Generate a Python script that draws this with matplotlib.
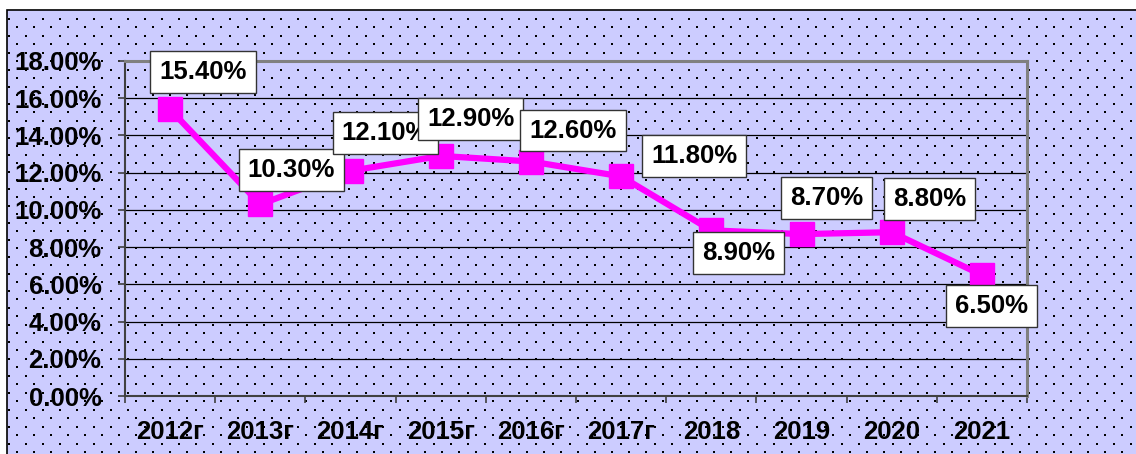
import matplotlib
matplotlib.use("Agg")
import matplotlib.pyplot as plt
import numpy as np
from matplotlib.patches import Rectangle
from matplotlib.ticker import FixedLocator, PercentFormatter

categories = ["2012г", "2013г", "2014г", "2015г", "2016г", "2017г", "2018", "2019", "2020", "2021"]
values = [15.40, 10.30, 12.10, 12.90, 12.60, 11.80, 8.90, 8.70, 8.80, 6.50]
labels = ["15.40%", "10.30%", "12.10%", "12.90%", "12.60%", "11.80%", "8.90%", "8.70%", "8.80%", "6.50%"]
# label offsets in pixels (dx, dy up)
offsets = [(33, 37), (31, 34), (35, 38), (30, 37), (42, 31), (73, 20), (27, -23), (25, 36), (38, 33), (10, -31)]

W, H = 1136, 454
fig = plt.figure(figsize=(W / 100, H / 100), dpi=100)
fig.patch.set_facecolor("white")

# background panel with dotted pattern
bg = fig.add_axes([0, 0, 1, 1], zorder=0)
bg.set_xlim(0, W)
bg.set_ylim(H, 0)
bg.axis("off")
bg.add_patch(Rectangle((7, 10), W + 10, H + 10, facecolor="#CCCCFF", edgecolor="black", lw=1.2))
xs, ys = [], []
row = 0
y = 18.5
while y < H:
    x0 = 8.5 if row % 2 == 0 else 17
    x = x0
    while x < W:
        if x > 8:
            xs.append(x)
            ys.append(y)
        x += 17
    y += 8.5
    row += 1
bg.scatter(xs, ys, s=2.6, marker="s", color="black", linewidths=0)

# main plot area: left 125, right 1027, top 61, bottom 396
ax = fig.add_axes([125 / W, 1 - 396 / H, (1027 - 125) / W, (396 - 61) / H], zorder=1)
ax.set_facecolor("none")
x = np.arange(len(categories))
ax.set_xlim(-0.5, len(categories) - 0.5)
ax.set_ylim(0, 18)
ax.yaxis.set_major_locator(FixedLocator(np.arange(0, 18.01, 2)))
ax.yaxis.set_major_formatter(PercentFormatter(decimals=2))
ax.grid(axis="y", color="black", lw=0.9)
ax.set_axisbelow(True)
for s in ["top", "right"]:
    ax.spines[s].set_color("#808080")
    ax.spines[s].set_linewidth(2.2)
ax.spines["left"].set_color("#404040")
ax.spines["left"].set_linewidth(1.5)
ax.spines["bottom"].set_color("#404040")
ax.spines["bottom"].set_linewidth(1.5)

FS = 18.5
ax.set_xticks(x)
ax.set_xticklabels(categories, fontsize=FS, fontweight="bold", family="Liberation Sans")
ax.tick_params(axis="x", which="major", length=0, pad=17)
ax.set_xticks(np.arange(-0.5, len(categories), 1), minor=True)
ax.tick_params(axis="x", which="minor", length=5, width=1.2, color="#404040", direction="out")
ax.tick_params(axis="y", length=5, width=1.2, color="#404040", direction="out", pad=12)
for t in ax.get_yticklabels():
    t.set_fontsize(FS)
    t.set_fontweight("bold")
    t.set_family("Liberation Sans")

ax.plot(x, values, color="#FF00FF", lw=4.5, marker="s", markersize=17.5,
        markerfacecolor="#FF00FF", markeredgecolor="#FF00FF", zorder=3, clip_on=False)

for xi, v, lab, (dx, dy) in zip(x, values, labels, offsets):
    ax.annotate(lab, (xi, v), xytext=(dx * 0.72, dy * 0.72), textcoords="offset points",
                ha="center", va="center", fontsize=FS, fontweight="bold", family="Liberation Sans",
                bbox=dict(boxstyle="square,pad=0.35", facecolor="white", edgecolor="#333333", lw=1),
                zorder=4)

fig.savefig("out.png", dpi=100)
